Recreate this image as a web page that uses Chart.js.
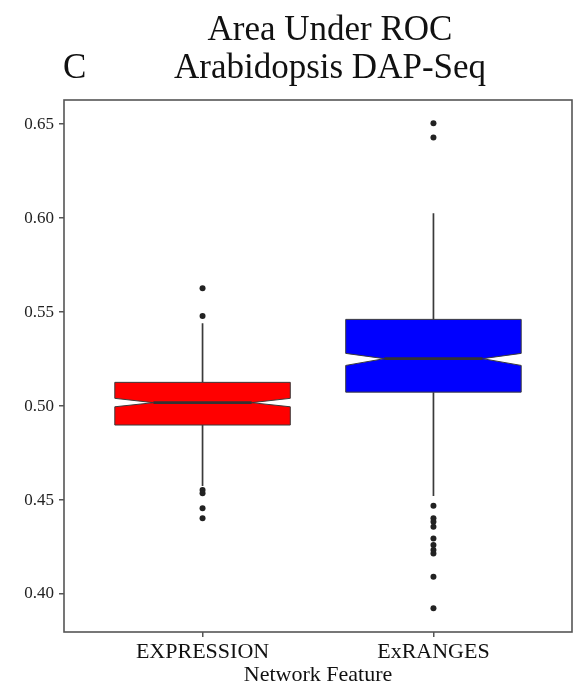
<!DOCTYPE html>
<html>
<head>
<meta charset="utf-8">
<script src="https://cdn.jsdelivr.net/npm/chart.js@4"></script>
<style>
    body { margin: 0; background: #fff; }
    #wrap { position: relative; width: 577px; height: 691px; }
</style>
</head>
<body>
<div id="wrap"><canvas id="auroc"></canvas></div>
<script>
// ========== DATOS ==========
const categories = ["EXPRESSION", "ExRANGES"];
const boxColors = ["#ff0000", "#0000ff"];
const q1 = [0.4899, 0.5074];
const median = [0.5018, 0.5252];
const q3 = [0.5126, 0.5461];
const notchLow = [0.4996, 0.5216];
const notchHigh = [0.5041, 0.5280];
const whiskerLow = [0.4574, 0.4521];
const whiskerHigh = [0.5440, 0.6025];
const outliersExpression = [0.5626, 0.5479, 0.4553, 0.4536, 0.4456, 0.4403];
const outliersExranges = [
    0.6504, 0.6429, 0.4470, 0.4403, 0.4385, 0.4358, 0.4296,
    0.4261, 0.4234, 0.4216, 0.4092, 0.3924,
];
const yTicks = [0.40, 0.45, 0.50, 0.55, 0.60, 0.65];

const SERIF = "'Liberation Serif', 'DejaVu Serif', serif";
const INK = "#3a3a3a";
const BOX_WIDTH = 0.76;   // en unidades del eje x
const NOTCH = 0.56;       // ancho relativo de la muesca

// ========== CAJAS CON MUESCA ==========
const boxPlugin = {
    id: "notchedBoxes",
    beforeDatasetsDraw(chart) {
        const { ctx, scales: { x, y } } = chart;
        ctx.save();
        categories.forEach((cat, i) => {
            const cx = x.getPixelForValue(i + 1);
            const half = (x.getPixelForValue(1 + BOX_WIDTH / 2) - x.getPixelForValue(1));
            const inner = half * NOTCH;
            const L = cx - half, R = cx + half;
            const pQ1 = y.getPixelForValue(q1[i]);
            const pQ3 = y.getPixelForValue(q3[i]);
            const pMed = y.getPixelForValue(median[i]);
            const pNl = y.getPixelForValue(notchLow[i]);
            const pNh = y.getPixelForValue(notchHigh[i]);

            // bigotes
            ctx.strokeStyle = INK;
            ctx.lineWidth = 1.7;
            ctx.beginPath();
            ctx.moveTo(cx, y.getPixelForValue(whiskerHigh[i]));
            ctx.lineTo(cx, pQ3);
            ctx.moveTo(cx, pQ1);
            ctx.lineTo(cx, y.getPixelForValue(whiskerLow[i]));
            ctx.stroke();

            // caja
            ctx.beginPath();
            ctx.moveTo(L, pQ3);
            ctx.lineTo(R, pQ3);
            ctx.lineTo(R, pNh);
            ctx.lineTo(cx + inner, pMed);
            ctx.lineTo(R, pNl);
            ctx.lineTo(R, pQ1);
            ctx.lineTo(L, pQ1);
            ctx.lineTo(L, pNl);
            ctx.lineTo(cx - inner, pMed);
            ctx.lineTo(L, pNh);
            ctx.closePath();
            ctx.fillStyle = boxColors[i];
            ctx.fill();
            ctx.lineWidth = 1;
            ctx.strokeStyle = INK;
            ctx.stroke();

            // mediana
            ctx.lineWidth = 2.6;
            ctx.strokeStyle = "#333";
            ctx.beginPath();
            ctx.moveTo(cx - inner, pMed);
            ctx.lineTo(cx + inner, pMed);
            ctx.stroke();
        });
        ctx.restore();
    },
    afterDraw(chart) {
        const { ctx, chartArea: a } = chart;
        ctx.save();
        // marco
        ctx.strokeStyle = "#555";
        ctx.lineWidth = 1.6;
        ctx.strokeRect(a.left, a.top, a.right - a.left, a.bottom - a.top);
        // títulos
        ctx.fillStyle = "#111";
        ctx.font = "35px " + SERIF;
        ctx.textBaseline = "alphabetic";
        ctx.textAlign = "center";
        ctx.fillText("Area Under ROC", 330, 40);
        ctx.fillText("Arabidopsis DAP-Seq", 330, 78);
        ctx.textAlign = "left";
        ctx.fillText("C", 63, 78);
        ctx.restore();
    },
};

// ========== GRÁFICO ==========
const ctx = document.getElementById("auroc").getContext("2d");
new Chart(ctx, {
    type: "scatter",
    data: {
        datasets: [
            {
                label: categories[0],
                data: outliersExpression.map((v) => ({ x: 1, y: v })),
            },
            {
                label: categories[1],
                data: outliersExranges.map((v) => ({ x: 2, y: v })),
            },
        ],
    },
    options: {
        responsive: true,
        maintainAspectRatio: false,
        animation: false,
        layout: { padding: { top: 100, right: 5, left: 0, bottom: 0 } },
        elements: {
            point: {
                radius: 3,
                backgroundColor: "#222",
                borderColor: "#222",
                borderWidth: 0,
            },
        },
        plugins: {
            legend: { display: false },
            tooltip: { enabled: false },
        },
        scales: {
            x: {
                type: "linear",
                min: 0.4,
                max: 2.6,
                afterBuildTicks: (s) => { s.ticks = [{ value: 1 }, { value: 2 }]; },
                afterFit: (s) => { s.height = 59; },
                border: { display: false },
                grid: {
                    drawOnChartArea: false,
                    drawTicks: true,
                    tickLength: 5,
                    color: "#555",
                    lineWidth: 1.5,
                },
                ticks: {
                    padding: 2,
                    color: "#111",
                    font: { family: SERIF, size: 22 },
                    callback: (v) => categories[v - 1] ?? "",
                },
                title: {
                    display: true,
                    text: "Network Feature",
                    color: "#111",
                    font: { family: SERIF, size: 22 },
                    padding: { top: 0, bottom: 3 },
                },
            },
            y: {
                min: 0.3798,
                max: 0.6628,
                afterBuildTicks: (s) => { s.ticks = yTicks.map((v) => ({ value: v })); },
                afterFit: (s) => { s.width = 64; },
                border: { display: false },
                grid: {
                    drawOnChartArea: false,
                    drawTicks: true,
                    tickLength: 5,
                    color: "#555",
                    lineWidth: 1.5,
                },
                ticks: {
                    padding: 5,
                    color: "#222",
                    font: { family: SERIF, size: 17 },
                    callback: (v) => v.toFixed(2),
                },
            },
        },
    },
    plugins: [boxPlugin],
});
</script>
</body>
</html>
